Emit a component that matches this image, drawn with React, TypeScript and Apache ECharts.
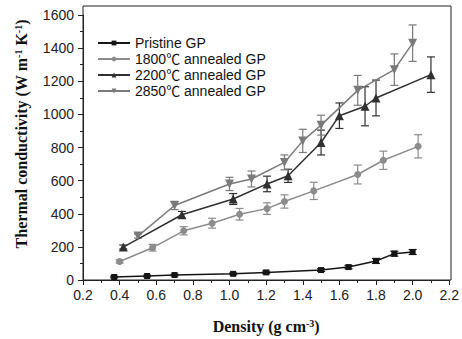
import React, { useEffect, useRef } from "react";
import * as echarts from "echarts";

const pristineX = [0.37, 0.55, 0.70, 1.02, 1.20, 1.50, 1.65, 1.80, 1.90, 2.00];
const pristineY = [18, 24, 30, 37, 46, 60, 78, 115, 159, 169];
const pristineErr = [5, 5, 5, 5, 8, 8, 10, 15, 15, 15];

const a1800X = [0.40, 0.58, 0.75, 0.905, 1.055, 1.205, 1.30, 1.46, 1.70, 1.84, 2.03];
const a1800Y = [112, 195, 297, 343, 397, 431, 474, 538, 637, 723, 807];
const a1800Err = [10, 20, 25, 30, 35, 35, 40, 52, 57, 55, 70];

const a2200X = [0.42, 0.74, 1.02, 1.205, 1.32, 1.50, 1.60, 1.74, 1.80, 2.10];
const a2200Y = [199, 394, 489, 580, 629, 830, 992, 1049, 1099, 1240];
const a2200Err = [12, 20, 33, 47, 40, 75, 77, 118, 108, 107];

const a2850X = [0.50, 0.70, 1.00, 1.12, 1.30, 1.40, 1.50, 1.70, 1.90, 2.00];
const a2850Y = [265, 450, 580, 610, 710, 840, 935, 1145, 1270, 1430];
const a2850Err = [12, 25, 40, 48, 45, 70, 60, 90, 95, 110];

const seriesNames = ["Pristine GP", "1800\u2103 annealed GP", "2200\u2103 annealed GP", "2850\u2103 annealed GP"];

const xTickMin = 0.2;
const xTickMax = 2.2;
const xTickStep = 0.2;
const yTickMin = 0;
const yTickMax = 1600;
const yTickStep = 200;

export default function App() {
  const ref = useRef<HTMLDivElement>(null);
  useEffect(() => {
    if (!ref.current) return;
    const chart = echarts.init(ref.current, null, { renderer: "svg" });
    const groups = [
      { name: seriesNames[0], xs: pristineX, ys: pristineY, es: pristineErr, color: "#151515", symbol: "rect", size: 6, rot: 0 },
      { name: seriesNames[1], xs: a1800X, ys: a1800Y, es: a1800Err, color: "#8c8c8c", symbol: "circle", size: 7, rot: 0 },
      { name: seriesNames[2], xs: a2200X, ys: a2200Y, es: a2200Err, color: "#303030", symbol: "triangle", size: 9, rot: 0 },
      { name: seriesNames[3], xs: a2850X, ys: a2850Y, es: a2850Err, color: "#7a7a7a", symbol: "triangle", size: 9, rot: 180 },
    ];
    const series: any[] = [];
    groups.forEach((g) => {
      series.push({
        type: "custom",
        name: g.name + " err",
        z: 1,
        silent: true,
        encode: { x: 0, y: [1, 2] },
        data: g.xs.map((x, i) => [x, g.ys[i] - g.es[i], g.ys[i] + g.es[i]]),
        renderItem: (params: any, api: any) => {
          const x = api.value(0);
          const lo = api.coord([x, api.value(1)]);
          const hi = api.coord([x, api.value(2)]);
          const hw = 4;
          const st = { stroke: g.color, lineWidth: 1.2 };
          return {
            type: "group",
            children: [
              { type: "line", shape: { x1: hi[0], y1: hi[1], x2: lo[0], y2: lo[1] }, style: st },
              { type: "line", shape: { x1: hi[0] - hw, y1: hi[1], x2: hi[0] + hw, y2: hi[1] }, style: st },
              { type: "line", shape: { x1: lo[0] - hw, y1: lo[1], x2: lo[0] + hw, y2: lo[1] }, style: st },
            ],
          };
        },
      });
      series.push({
        type: "line",
        name: g.name,
        z: 3,
        data: g.xs.map((x, i) => [x, g.ys[i]]),
        symbol: g.symbol,
        symbolSize: g.size,
        symbolRotate: g.rot,
        lineStyle: { color: g.color, width: 1.5 },
        itemStyle: { color: g.color },
      });
    });

    const axisFont = "Liberation Sans, Arial, sans-serif";
    const titleFont = "Liberation Serif, Times New Roman, serif";

    chart.setOption({
      animation: false,
      grid: { left: 83, right: 11, top: 15, bottom: 59 },
      legend: {
        data: seriesNames,
        orient: "vertical",
        left: 97,
        top: 35,
        itemWidth: 32,
        itemHeight: 6,
        itemGap: 0,
        padding: 0,
        textStyle: { fontSize: 14, lineHeight: 16, color: "#111", fontFamily: axisFont + ", Noto Sans CJK SC" },
      },
      xAxis: {
        type: "value",
        min: xTickMin,
        max: xTickMax,
        interval: xTickStep,
        name: "Density (g cm{sup|-3})",
        nameLocation: "middle",
        nameGap: 38,
        nameTextStyle: {
          fontFamily: titleFont,
          fontWeight: "bold",
          fontSize: 16,
          color: "#111",
          rich: {
            sup: { fontFamily: titleFont, fontWeight: "bold", fontSize: 10, verticalAlign: "top", color: "#111" },
          },
        },
        axisLine: { lineStyle: { color: "#222", width: 1 } },
        axisTick: { length: 5, lineStyle: { color: "#222" } },
        minorTick: { show: true, splitNumber: 2, length: 3, lineStyle: { color: "#222" } },
        splitLine: { show: false },
        axisLabel: {
          fontSize: 14,
          color: "#222",
          fontFamily: axisFont,
          margin: 8,
          formatter: (v: number) => v.toFixed(1),
        },
      },
      yAxis: {
        type: "value",
        min: yTickMin,
        max: yTickMax,
        interval: yTickStep,
        axisLine: { show: true, lineStyle: { color: "#222", width: 1 } },
        axisTick: { show: true, length: 5, lineStyle: { color: "#222" } },
        minorTick: { show: true, splitNumber: 2, length: 3, lineStyle: { color: "#222" } },
        splitLine: { show: false },
        axisLabel: {
          fontSize: 14,
          color: "#222",
          fontFamily: axisFont,
          margin: 9,
          formatter: (v: number) => String(Math.round(v)),
        },
      },
      graphic: [
        {
          type: "rect",
          shape: { x: 83, y: 6, width: 368, height: 274 },
          style: { fill: "none", stroke: "#222", lineWidth: 1 },
          silent: true,
        },
        {
          type: "text",
          x: 21,
          y: 134,
          rotation: Math.PI / 2,
          style: {
            text: "Thermal conductivity (W m{sup|-1} K{sup|-1})",
            align: "center",
            verticalAlign: "middle",
            fontFamily: titleFont,
            fontWeight: "bold",
            fontSize: 16,
            fill: "#111",
            rich: {
              sup: { fontFamily: titleFont, fontWeight: "bold", fontSize: 10, verticalAlign: "top", fill: "#111" },
            },
          },
        },
      ],
      series,
    });
    return () => chart.dispose();
  }, []);
  return <div ref={ref} style={{ width: 462, height: 339, position: "absolute", left: 0, top: 0 }} />;
}
